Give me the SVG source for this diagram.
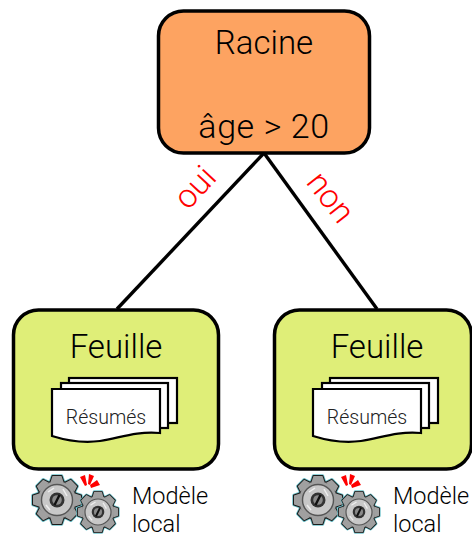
<svg xmlns="http://www.w3.org/2000/svg" width="472" height="534" viewBox="0 0 472 534">
<style>
text{font-family:Roboto,"Liberation Sans",Arial,sans-serif;font-weight:300;fill:#000}
.t{font-size:33px;text-anchor:middle}
.a{font-size:34px;text-anchor:middle;letter-spacing:.6px}
.r{font-size:19.500px;text-anchor:middle;fill:#222}
.m{font-size:23.500px}
.e{font-size:33px;fill:#f00;text-anchor:middle}
.pg{fill:#fff;stroke:#000;stroke-width:2.2}
.leaf{fill:#dfee78;stroke:#000;stroke-width:3.5}
.conn{stroke:#000;stroke-width:3.4;fill:none}
</style>
<defs>
<polygon id="tooth" points="-6.500,-18 -4.500,-24 4.500,-24 6.500,-18"/>
<g id="gearshape">
<use href="#tooth"/><use href="#tooth" transform="rotate(45)"/><use href="#tooth" transform="rotate(90)"/><use href="#tooth" transform="rotate(135)"/><use href="#tooth" transform="rotate(180)"/><use href="#tooth" transform="rotate(225)"/><use href="#tooth" transform="rotate(270)"/><use href="#tooth" transform="rotate(315)"/>
<circle r="19"/>
</g>
<g id="gear">
<use href="#gearshape" fill="#6fc3cc" stroke="#6fc3cc" stroke-width="3.600" stroke-linejoin="round"/>
<use href="#gearshape" fill="#1a1a1a" stroke="#1a1a1a" stroke-width="2" stroke-linejoin="round"/>
<use href="#gearshape" fill="#a0a0a0"/>
<circle r="15.500" fill="#c8c8c8" stroke="#555" stroke-width="1.400"/>
<path d="M-9,-8L-3,-12M6,-11L10,-4M-11,5L-7,10" stroke="#eee" stroke-width="1.500"/>
<circle r="7.500" fill="#333"/>
<circle r="4.800" fill="#8a8a8a"/>
<path d="M2.500,-5L-2.500,5" stroke="#111" stroke-width="2.400"/>
</g>
<g id="doc">
<rect class="pg" x="69" y="378" width="108" height="45"/>
<rect class="pg" x="61" y="383" width="107" height="45"/>
<path class="pg" d="M52,389H160V433C135,431 120,438 100,441C85,443 68,441 52,436Z"/>
<text class="r" x="106" y="424">Résumés</text>
</g>
<g id="sparks" fill="#f00">
<polygon points="80,477 85,475 87,485 85,486"/>
<polygon points="89,474 94,476 90,485 88,484"/>
<polygon points="97,480 100,485 91,488 90,485"/>
</g>
</defs>
<g id="connectors">
<path class="conn" d="M264,153L117,309"/>
<path class="conn" d="M264,153L377,309"/>
</g>
<g id="root">
<rect x="158.500" y="11" width="211" height="142" rx="25" fill="#fda361" stroke="#000" stroke-width="3.500"/>
<text class="t" x="264" y="54">Racine</text>
<text class="a" x="264" y="138">âge &gt; 20</text>
</g>
<text class="e" transform="translate(203,195) rotate(-47)">oui</text>
<text class="e" transform="translate(322,204) rotate(52)">non</text>
<g id="leaf-left">
<rect class="leaf" x="13.500" y="310" width="205" height="159" rx="25"/>
<text class="t" x="116" y="358">Feuille</text>
<use href="#doc"/>
<use href="#gear" transform="translate(57,500)"/>
<use href="#gear" transform="translate(98,512) scale(.84)"/>
<use href="#sparks"/>
<text class="m" x="132" y="504">Modèle</text>
<text class="m" x="132" y="532">local</text>
</g>
<g id="leaf-right">
<rect class="leaf" x="274.500" y="310" width="197" height="159" rx="25"/>
<text class="t" x="377" y="358">Feuille</text>
<use href="#doc" x="261"/>
<use href="#gear" transform="translate(318,500)"/>
<use href="#gear" transform="translate(359,512) scale(.84)"/>
<use href="#sparks" x="261"/>
<text class="m" x="393" y="504">Modèle</text>
<text class="m" x="393" y="532">local</text>
</g>
</svg>
